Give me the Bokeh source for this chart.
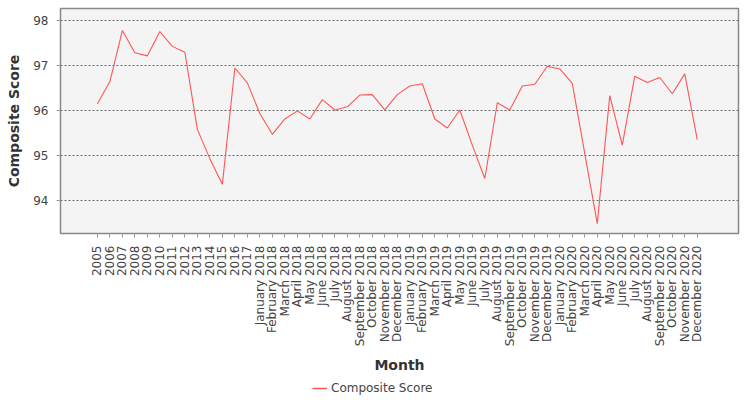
import math

from bokeh.embed import file_html
from bokeh.layouts import column
from bokeh.models import ColumnDataSource, FixedTicker, Legend, LegendItem, Range1d
from bokeh.plotting import figure
from bokeh.resources import INLINE

# ── Data ───────────────────────────────────────────────────
YEARS = [str(y) for y in range(2005, 2018)]
MONTH_NAMES = ["January", "February", "March", "April", "May", "June", "July",
               "August", "September", "October", "November", "December"]
MONTHS = [f"{m} {y}" for y in (2018, 2019, 2020) for m in MONTH_NAMES]
LABELS = YEARS + MONTHS

SCORES = [
    96.14, 96.64, 97.77, 97.28, 97.21, 97.75, 97.42, 97.29, 95.58, 94.93,
    94.36, 96.94, 96.61,
    # 2018
    95.93, 95.47, 95.81, 95.99, 95.81, 96.24, 96.01, 96.08, 96.34, 96.35,
    96.01, 96.35,
    # 2019
    96.54, 96.59, 95.81, 95.61, 96.01, 95.23, 94.49, 96.17, 96.01, 96.54,
    96.58, 96.98,
    # 2020
    96.92, 96.60, 95.04, 93.49, 96.33, 95.23, 96.76, 96.62, 96.73, 96.37,
    96.81, 95.35,
]

Y_TICKS = [94, 95, 96, 97, 98]

FONT = "DejaVu Sans"
TEXT = "#444444"
LINE = "#ff5555"

idx = list(range(len(LABELS)))
src = ColumnDataSource(dict(idx=idx, score=SCORES, label=LABELS))

p = figure(
    frame_width=678,
    frame_height=225,
    output_backend="svg",
    toolbar_location=None,
    x_range=Range1d(-2.95, 51.3),
    y_range=Range1d(93.27, 98.26),
    background_fill_color="#f4f4f4",
    border_fill_color="white",
    outline_line_color="#888888",
    outline_line_width=1.5,
    min_border_top=8,
    min_border_right=12,
    min_border_left=60,
    min_border_bottom=0,
)

p.line("idx", "score", source=src, line_color=LINE, line_width=1.1)

# ── Axes ───────────────────────────────────────────────────
p.xgrid.grid_line_color = None
p.ygrid.grid_line_color = "#666666"
p.ygrid.grid_line_dash = "2 2"
p.ygrid.grid_line_width = 1

p.xaxis.ticker = FixedTicker(ticks=idx)
p.xaxis.major_label_overrides = {i: lab for i, lab in enumerate(LABELS)}
p.xaxis.major_label_orientation = math.pi / 2
p.yaxis.ticker = FixedTicker(ticks=Y_TICKS)

p.axis.axis_line_color = "#888888"
p.axis.major_tick_line_color = "#999999"
p.axis.minor_tick_line_color = None
p.axis.major_tick_in = 0
p.axis.major_tick_out = 4
p.axis.major_label_standoff = 8
p.axis.major_label_text_font = FONT
p.axis.major_label_text_font_size = "12px"
p.axis.major_label_text_color = TEXT
p.axis.axis_label_text_font = FONT
p.axis.axis_label_text_font_style = "bold"
p.axis.axis_label_text_color = "#333333"

p.xaxis.axis_label = "Month"
p.xaxis.axis_label_text_font_size = "14px"
p.xaxis.axis_label_standoff = 8
p.yaxis.axis_label = "Composite Score"
p.yaxis.axis_label_text_font_size = "14px"
p.yaxis.axis_label_standoff = 8

# ── Legend strip under the chart ───────────────────────────
# the key renderer shares the data but its y range keeps it out of view,
# only the legend entry is seen
leg = figure(
    width=750,
    height=26,
    output_backend="svg",
    toolbar_location=None,
    x_range=Range1d(0, 1),
    y_range=Range1d(0, 1),
    x_axis_type=None,
    y_axis_type=None,
    outline_line_color=None,
    min_border=0,
)
leg.grid.visible = False
key = leg.line("idx", "score", source=src, line_color=LINE, line_width=1.5)

legend = Legend(
    items=[LegendItem(label="Composite Score", renderers=[key])],
    location=(252, 7),
    orientation="horizontal",
    border_line_color=None,
    background_fill_alpha=0,
    label_text_font=FONT,
    label_text_font_size="12px",
    label_text_color=TEXT,
    glyph_width=15,
    glyph_height=12,
    label_height=12,
    label_standoff=4,
    padding=0,
    margin=0,
)
leg.add_layout(legend)

layout = column(p, leg, spacing=0)

open("out.html", "w").write(file_html(layout, INLINE))
